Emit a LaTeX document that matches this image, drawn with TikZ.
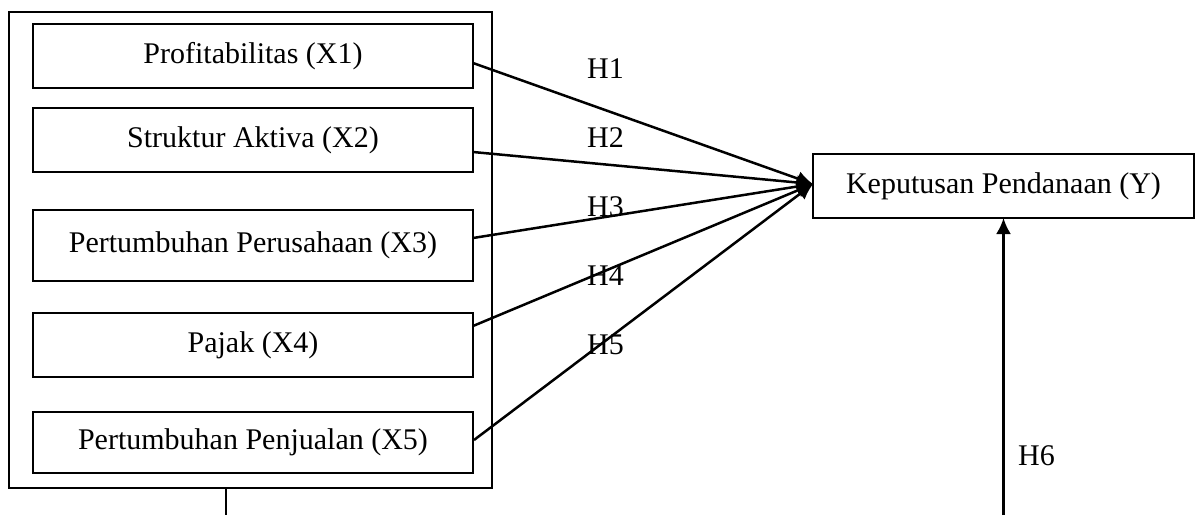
\documentclass[tikz,border=0pt]{standalone}
\usepackage{fontspec}
\setmainfont{Liberation Serif}
\usetikzlibrary{calc,arrows.meta}
\begin{document}
\begin{tikzpicture}[x=1pt,y=-1pt,
  every node/.style={font=\fontsize{30}{36}\selectfont},
  varbox/.style={draw,line width=2pt,minimum width=440pt,inner sep=0pt,outer sep=0pt},
  framebox/.style={draw,line width=2pt,minimum width=483pt,minimum height=476pt,inner sep=0pt,outer sep=0pt},
  link/.style={line width=2.5pt,-{Latex[length=16pt,width=15pt]}},
  plain/.style={line width=2pt},
  hlab/.style={anchor=base west,inner sep=0pt}]
\useasboundingbox[fill=white] (0,0) rectangle (1200,515);
\node[framebox] (outer) at (250.5,250) {};
\node[varbox,minimum height=64pt] (X1) at (253,56) {Profitabilitas (X1)};
\node[varbox,minimum height=64pt] (X2) at (253,140) {Struktur Aktiva (X2)};
\node[varbox,minimum height=71pt] (X3) at (253,245.5) {Pertumbuhan Perusahaan (X3)};
\node[varbox,minimum height=64pt] (X4) at (253,345) {Pajak (X4)};
\node[varbox,minimum height=61pt] (X5) at (253,442.5) {Pertumbuhan Penjualan (X5)};
\node[draw,line width=2pt,minimum width=381pt,minimum height=64pt,inner sep=0pt,outer sep=0pt] (Y) at (1003.5,186) {Keputusan Pendanaan (Y)};
\coordinate (b1) at (226,515);
\coordinate (b2) at (1003.5,515);
\draw[link] ($(X1.east)+(0,7)$) -- ($(Y.west)+(0,-2)$);
\draw[link] ($(X2.east)+(0,12)$) -- ($(Y.west)+(0,-2)$);
\draw[link] ($(X3.east)+(0,-7.5)$) -- ($(Y.west)+(0,-2)$);
\draw[link] ($(X4.east)+(0,-19)$) -- ($(Y.west)+(0,-2)$);
\draw[link] ($(X5.east)+(1,-2.5)$) -- ($(Y.west)+(0,-2)$);
\draw[plain] (b1 |- outer.south) -- (b1);
\draw[link] (b2) -- (Y.south);
\node[hlab] (h1) at (587,78) {H1};
\node[hlab] (h2) at (587,147) {H2};
\node[hlab] (h3) at (587,216) {H3};
\node[hlab] (h4) at (587,285) {H4};
\node[hlab] (h5) at (587,354) {H5};
\node[hlab] (h6) at (1018,465) {H6};
\end{tikzpicture}
\end{document}
